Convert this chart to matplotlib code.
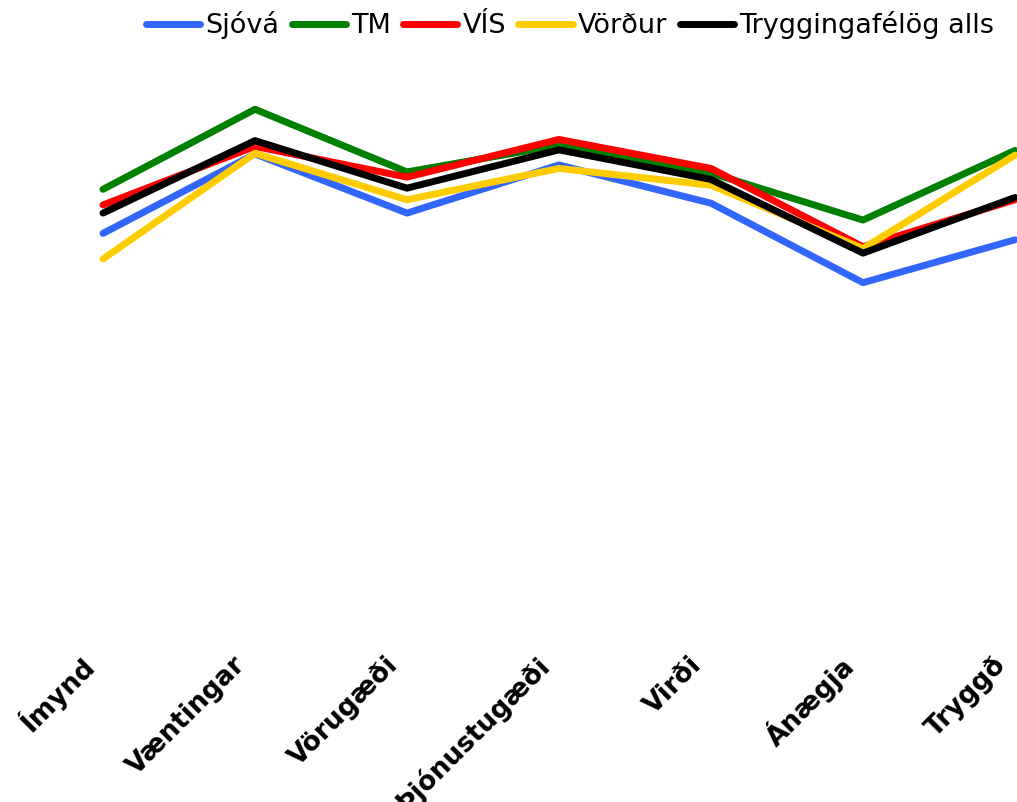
import matplotlib.pyplot as plt
import matplotlib.transforms as mtransforms

categories = ['Ímynd', 'Væntingar', 'Vörugæði', 'Þjónustugæði', 'Virði', 'Ánægja', 'Tryggð']

sjova = [70.1, 83.8, 73.6, 81.9, 75.3, 61.6, 69.0]
tm = [77.7, 91.5, 80.7, 85.3, 80.5, 72.4, 84.4]
vis = [75.0, 85.1, 79.8, 86.3, 81.3, 67.8, 75.9]
vordur = [65.7, 83.9, 75.9, 81.3, 78.4, 67.5, 83.6]
alls = [73.6, 86.1, 77.9, 84.5, 79.4, 66.7, 76.3]

series = [('Sjóvá', sjova, '#3366ff'),
          ('TM', tm, '#008000'),
          ('VÍS', vis, '#ff0000'),
          ('Vörður', vordur, '#ffcc00'),
          ('Tryggingafélög alls', alls, '#000000')]

fig = plt.figure(figsize=(10.17, 8.02), dpi=100)
bottom = (802 - 655) / 802
ax = fig.add_axes([0, bottom, 1, 1 - bottom])

x = list(range(len(categories)))
for name, vals, col in series:
    ax.plot(x, vals, color=col, lw=5, label=name, solid_capstyle='round')

ax.set_xlim(-103 / 152, (1017 - 103) / 152)
ax.set_ylim(-2.59, 110.34)
ax.set_xticks([])
ax.set_yticks([])
for s in ax.spines.values():
    s.set_visible(False)

# category labels, rotated, ending just left of each point
offset = mtransforms.ScaledTranslation(-13 / 100, -6 / 100, fig.dpi_scale_trans)
for i, cat in enumerate(categories):
    ax.text(i, 0, cat, transform=ax.get_xaxis_transform() + offset,
            fontsize=19, fontweight='bold', rotation=45, ha='right', va='center',
            rotation_mode='anchor', clip_on=False)

fig.legend(loc='center', bbox_to_anchor=(570 / 1017, 1 - 25 / 802), ncol=5, frameon=False,
           fontsize=19.5, handlelength=2.0, handletextpad=0.2, columnspacing=0.45,
           borderaxespad=0, borderpad=0)

fig.savefig('out.png', dpi=100)
